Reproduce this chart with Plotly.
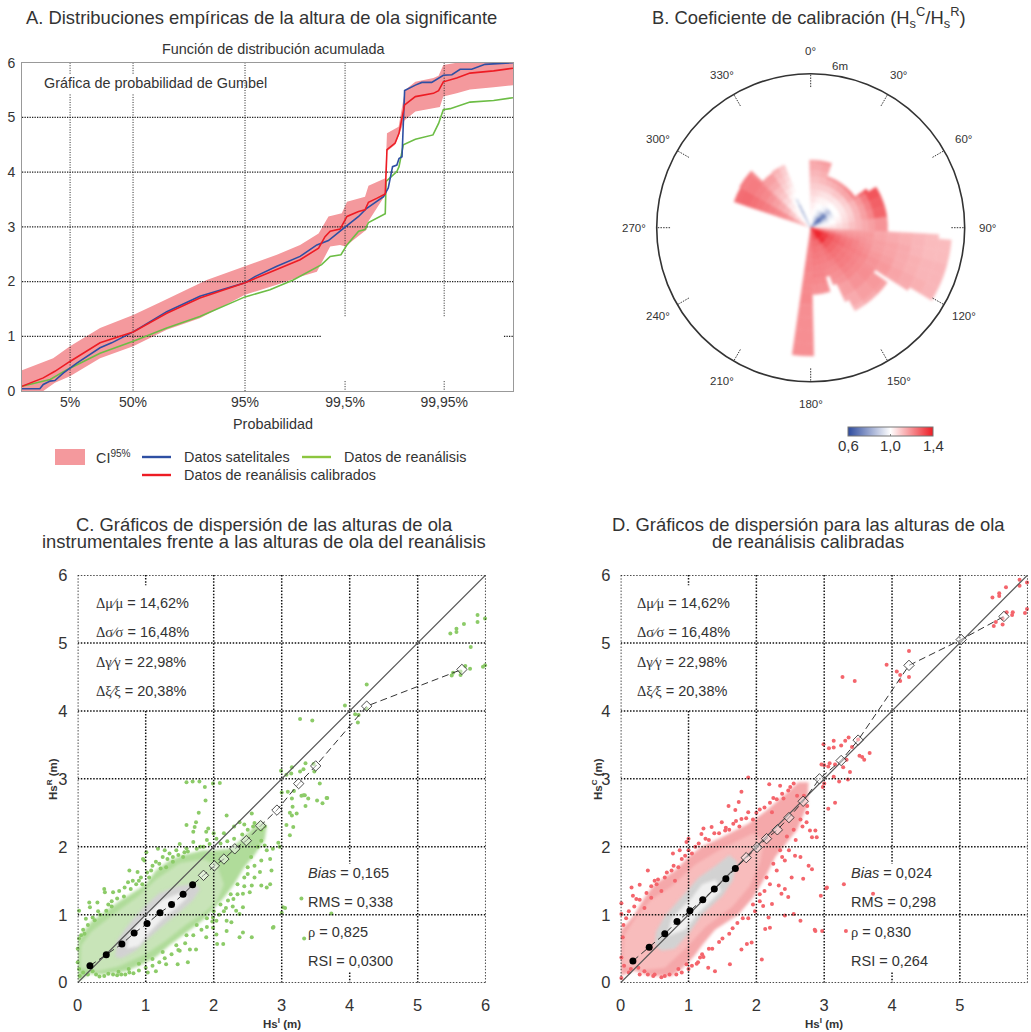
import math
import plotly.graph_objects as go

W, H = 1031, 1032
FONT = "Liberation Sans"
INK = "#333333"

# ---------- Panel A: Gumbel reduced variate vs Hs ----------
prob_ticks = [-1.097, 0.367, 2.970, 5.296, 7.600]
prob_labels = ["5%", "50%", "95%", "99,5%", "99,95%"]
red_x = [-2.22,-1.72,-1.45,-1.10,-0.40,0.37,1.15,1.92,2.97,3.71,4.25,4.68,4.83,4.95,5.18,5.34,5.61,5.76,5.84,6.03,6.23,6.27,6.46,6.55,6.68,6.93,7.35,7.47,7.58,7.89,8.20,8.75,9.20]
red_y = [0.085,0.24,0.36,0.54,0.88,1.08,1.42,1.70,1.98,2.22,2.40,2.61,2.82,2.92,2.96,3.19,3.28,3.31,3.45,3.52,3.60,4.41,4.53,4.71,5.23,5.38,5.44,5.49,5.65,5.72,5.81,5.85,5.90]
blue_x = [-2.22,-1.80,-1.72,-1.56,-1.45,-1.25,-0.94,-0.40,-0.13,0.37,1.15,1.92,2.97,3.20,3.71,4.25,4.64,4.91,5.18,5.34,5.61,5.80,6.03,6.19,6.30,6.40,6.50,6.55,6.62,6.68,6.93,7.08,7.31,7.43,7.58,7.78,7.97,8.24,8.55,9.20]
blue_y = [0.04,0.04,0.12,0.18,0.19,0.33,0.51,0.79,0.88,1.08,1.45,1.73,1.98,2.09,2.28,2.46,2.67,2.75,2.92,3.02,3.19,3.34,3.46,3.55,3.71,4.10,4.13,4.25,4.28,5.49,5.59,5.64,5.64,5.70,5.77,5.78,5.88,5.88,5.97,6.00]
green_x = [-2.22,-1.56,-1.17,-0.40,0.37,1.15,1.92,2.97,3.55,4.09,4.75,4.95,5.20,5.34,5.61,5.76,5.84,6.03,6.23,6.25,6.38,6.50,6.55,6.65,6.93,7.34,7.47,7.58,7.74,8.20,8.75,9.20]
green_y = [0.085,0.21,0.39,0.69,0.91,1.15,1.36,1.72,1.85,2.03,2.31,2.46,2.49,2.67,2.92,2.95,3.08,3.16,3.24,3.83,3.93,4.01,4.10,4.50,4.60,4.68,4.89,5.14,5.16,5.28,5.31,5.36]
ci_up_x = [-2.22,-1.49,-1.10,-0.40,0.37,1.00,2.08,2.97,3.71,4.25,4.68,4.91,5.22,5.34,5.76,5.84,6.23,6.27,6.54,6.69,6.93,7.35,7.47,7.58,7.89,9.20]
ci_up_y = [0.38,0.60,0.82,1.15,1.39,1.62,2.03,2.28,2.49,2.67,2.88,3.19,3.25,3.46,3.55,3.75,3.89,4.71,4.83,5.50,5.65,5.72,5.76,5.96,6.00,6.00]
ci_lo_x = [-2.22,-1.72,-1.45,-1.10,-0.40,0.37,1.15,1.92,2.97,3.71,4.25,4.64,4.79,4.95,5.18,5.30,5.80,5.82,6.23,6.27,6.46,6.55,6.68,6.93,7.35,7.50,7.58,7.89,8.20,8.75,9.20]
ci_lo_y = [0.00,0.00,0.15,0.27,0.60,0.82,1.12,1.33,1.76,1.94,2.09,2.18,2.40,2.64,2.67,2.64,2.95,3.08,3.58,4.38,4.50,4.68,4.95,5.11,5.17,5.19,5.38,5.44,5.51,5.55,5.59]

# ---------- Panel B: calibration coefficient rose ----------
radial_edges = [0.25,0.5,0.75,1,1.25,1.5,1.75,2,2.25,2.5,3,3.5,4,4.5,5,5.5]
sector_start = [-1,5,10,18,25,32,40,46,50,55,58,66,74,82,93,95,100,105,110,115,121,123,125.5,135,145,152,155,158.5,163,170,178.6,288.7,300,312,313.8,325,332,336]
sector_end   = [5,10,18,25,32,40,46,50,55,58,66,74,82,93,95,100,105,110,115,121,123,125.5,135,145,152,155,158.5,163,170,178.6,188.3,300,312,313.8,325,332,336,337.4]
sector_rmax  = [2.64,2.64,2.64,2.1,2.1,2.1,2.1,2.1,2.1,2.64,3.1,3.1,3.1,3.1,5.2,5.5,5.5,5.5,5.5,5.5,4.6,3.07,3.67,3.67,3.67,3.18,2.4,2.05,2.6,2.6,5.2,3.15,3.2,3.2,2.6,2.65,2.65,2.65]
sector_vals = [
 [1.00,1.00,1.02,1.03,1.05,1.07,1.09,1.11,1.13,1.15,1.16],
 [1.00,1.00,1.01,1.03,1.05,1.07,1.09,1.11,1.13,1.15,1.17],
 [1.00,0.98,1.00,1.01,1.03,1.06,1.09,1.12,1.14,1.16,1.18],
 [0.98,0.93,0.97,1.00,1.02,1.05,1.09,1.13,1.18],
 [0.93,0.88,0.93,0.99,1.02,1.05,1.09,1.14,1.19],
 [0.86,0.80,0.87,0.97,1.01,1.05,1.10,1.15,1.20],
 [0.72,0.68,0.75,0.90,1.00,1.04,1.10,1.16,1.22],
 [0.64,0.62,0.68,0.85,1.00,1.04,1.09,1.16,1.24],
 [0.64,0.62,0.70,0.88,1.00,1.04,1.09,1.16,1.24],
 [0.70,0.70,0.78,0.92,1.00,1.04,1.09,1.15,1.21,1.27,1.32],
 [0.80,0.82,0.87,0.95,1.00,1.04,1.08,1.13,1.18,1.23,1.30],
 [0.90,0.93,0.95,0.99,1.01,1.05,1.08,1.13,1.17,1.22,1.28],
 [0.97,0.98,0.99,1.00,1.03,1.06,1.09,1.13,1.17,1.21,1.27],
 [1.02,1.03,1.03,1.04,1.06,1.08,1.11,1.13,1.15,1.17,1.19],
 [1.08,1.10,1.12,1.13,1.14,1.15,1.16,1.17,1.17,1.17,1.16,1.15,1.14,1.13,1.12],
 [1.14,1.16,1.17,1.17,1.17,1.18,1.18,1.18,1.18,1.18,1.16,1.15,1.14,1.13,1.12,1.12],
 [1.22,1.24,1.24,1.23,1.22,1.21,1.20,1.20,1.19,1.18,1.17,1.16,1.15,1.13,1.12,1.12],
 [1.30,1.32,1.30,1.28,1.26,1.24,1.23,1.22,1.20,1.19,1.17,1.16,1.15,1.14,1.13,1.13],
 [1.35,1.37,1.34,1.30,1.27,1.25,1.24,1.22,1.21,1.20,1.18,1.17,1.15,1.14,1.13,1.13],
 [1.38,1.40,1.36,1.31,1.28,1.26,1.24,1.23,1.22,1.21,1.19,1.18,1.16,1.15,1.14,1.13],
 [1.38,1.40,1.36,1.31,1.28,1.26,1.24,1.23,1.22,1.21,1.19,1.18,1.16,1.15],
 [1.38,1.40,1.36,1.31,1.28,1.25,1.24,1.23,1.22,1.21,1.20],
 [1.38,1.40,1.36,1.30,1.27,1.25,1.24,1.23,1.22,1.21,1.20,1.18,1.17],
 [1.38,1.40,1.38,1.30,1.27,1.25,1.24,1.23,1.22,1.21,1.19,1.17,1.15],
 [1.35,1.38,1.30,1.26,1.25,1.24,1.22,1.21,1.20,1.19,1.17,1.15,1.13],
 [1.33,1.34,1.28,1.25,1.24,1.23,1.22,1.21,1.20,1.19,1.17,1.15],
 [1.32,1.32,1.27,1.25,1.24,1.23,1.22,1.21,1.20,1.19],
 [1.30,1.30,1.27,1.25,1.24,1.23,1.22,1.21],
 [1.30,1.30,1.27,1.25,1.24,1.23,1.22,1.22,1.21,1.20,1.20],
 [1.28,1.28,1.26,1.25,1.24,1.23,1.22,1.22,1.21,1.20,1.20],
 [1.22,1.22,1.22,1.22,1.22,1.22,1.22,1.21,1.21,1.21,1.21,1.20,1.20,1.20,1.20],
 [1.10,1.14,1.16,1.18,1.20,1.21,1.22,1.23,1.24,1.25,1.26,1.26],
 [1.02,1.05,1.07,1.10,1.13,1.15,1.17,1.19,1.21,1.22,1.23,1.23],
 [1.00,1.01,1.03,1.05,1.08,1.11,1.13,1.15,1.18,1.20,1.21,1.21],
 [1.00,1.00,1.01,1.02,1.04,1.07,1.10,1.12,1.15,1.17,1.18],
 [1.00,1.00,1.00,1.00,1.00,1.02,1.05,1.08,1.10,1.12,1.14],
 [0.62,0.66,0.72,0.80,0.90,1.00,1.02,1.05,1.07,1.09,1.10],
 [1.00,1.00,1.00,1.00,1.00,1.00,1.02,1.04,1.06,1.08,1.10],
]
angle_ticks = [0,30,60,90,120,150,180,210,240,270,300,330]
colorbar_ticks = [0.6, 1.0, 1.4]
colorbar_labels = ["0,6", "1,0", "1,4"]

# ---------- Panels C and D: scatter ----------
mean_x = [0.18,0.42,0.65,0.83,1.02,1.21,1.38,1.55,1.69]
c_mean_y = [0.25,0.41,0.57,0.73,0.87,1.03,1.15,1.30,1.44]
d_mean_y = [0.32,0.52,0.72,0.90,1.06,1.22,1.38,1.53,1.68]
c_tail_x = [1.85,2.01,2.15,2.31,2.48,2.69,2.93,3.25,3.50,4.25,5.65]
c_tail_y = [1.58,1.72,1.82,1.97,2.09,2.31,2.54,2.93,3.19,4.07,4.61]
d_tail_x = [1.85,2.01,2.15,2.31,2.48,2.69,2.93,3.25,3.50,4.25,5.02,5.65]
d_tail_y = [1.84,1.99,2.12,2.25,2.43,2.67,3.00,3.27,3.57,4.67,5.05,5.39]

c_hull = [(0,.02),(0,.6),(.08,.74),(.2,.9),(.37,1.02),(.61,1.2),(.85,1.35),(1.0,1.45),(1.15,1.65),(1.35,1.8),(1.55,1.88),(1.84,1.95),(2.0,1.95),(2.24,1.97),(2.4,2.1),(2.55,2.25),(2.7,2.38),(2.78,2.3),(2.75,2.1),(2.6,1.88),(2.45,1.7),(2.3,1.45),(2.15,1.25),(1.99,1.08),(1.84,.92),(1.6,.74),(1.35,.55),(1.15,.38),(.95,.27),(.71,.17),(.37,.12),(.17,.13)]
c_mid = [(.04,.22),(.05,.55),(.2,.75),(.45,.95),(.9,1.28),(1.15,1.52),(1.5,1.76),(1.85,1.82),(2.05,1.72),(2.15,1.45),(2.05,1.2),(1.85,1.02),(1.6,.86),(1.3,.62),(1.0,.42),(.6,.24),(.3,.17)]
c_grey = [(.55,.38),(.58,.62),(.72,.82),(.85,.98),(1.0,1.14),(1.2,1.32),(1.45,1.42),(1.72,1.46),(1.8,1.38),(1.7,1.22),(1.5,1.04),(1.3,.88),(1.05,.66),(.85,.47),(.65,.36)]
c_core = [(.72,.5),(.75,.7),(1.0,1.0),(1.25,1.22),(1.5,1.32),(1.62,1.26),(1.45,1.1),(1.25,.94),(1.05,.74),(.9,.54)]
d_hull = [(0,.1),(0,.78),(.1,.88),(.2,1.0),(.35,1.25),(.5,1.45),(.8,1.65),(1.0,1.85),(1.19,2.0),(1.49,2.14),(1.88,2.34),(2.13,2.52),(2.4,2.75),(2.62,2.95),(2.77,2.95),(2.75,2.6),(2.6,2.25),(2.42,2.02),(2.28,1.85),(2.13,1.55),(1.95,1.25),(1.73,1.0),(1.39,.78),(1.2,.55),(1.09,.4),(.9,.2),(.75,.1),(.45,.1),(.2,.18)]
d_mid = [(.03,.25),(.05,.7),(.25,1.0),(.45,1.22),(.75,1.42),(1.1,1.74),(1.5,1.98),(1.95,2.2),(2.12,2.1),(2.05,1.75),(1.9,1.42),(1.65,1.12),(1.25,.82),(.95,.5),(.65,.22),(.3,.18)]
d_grey = [(.5,.55),(.52,.75),(.65,.98),(.85,1.2),(1.0,1.38),(1.15,1.55),(1.4,1.72),(1.6,1.88),(1.72,1.78),(1.65,1.5),(1.5,1.28),(1.2,1.0),(1.0,.72),(.8,.5),(.6,.47)]
d_core = [(.68,.68),(.75,.95),(1.05,1.25),(1.2,1.45),(1.4,1.52),(1.48,1.35),(1.15,1.03),(.95,.78)]

c_dots = [(.02,1.06),(.17,1.18),(.18,1.11),(.29,1.18),(.22,.96),(.12,.94),(.39,1.38),(.4,1.33),(.52,1.33),(.61,1.35),(.69,1.4),(.76,1.65),(.88,1.63),(.96,1.82),(1.01,1.92),(.98,1.8),(.81,1.5),(.74,1.48),(.86,1.45),(.93,1.55),(1.18,1.97),(1.28,1.95),(1.35,1.9),(1.5,2.04),(1.57,1.92),(1.7,2.07),(1.6,2.32),(1.72,2.29),(1.74,2.36),(1.7,2.22),(1.78,2.5),(1.89,2.22),(1.92,2.27),(1.88,2.68),(1.6,2.95),(1.69,2.96),(1.79,2.96),(1.87,2.88),(1.99,2.93),(2.09,2.94),(2.19,2.46),(2.56,2.49),(2.38,2.36),(2.04,2.12),(1.94,2.04),(1.55,1.85),
 (2.85,1.65),(2.83,1.45),(2.7,1.43),(2.78,1.4),(2.56,1.43),(2.53,1.33),(2.43,1.31),(2.43,1.11),(2.33,1.06),(2.38,1.01),(2.29,1.23),(2.21,1.21),(2.19,.91),(2.26,.89),(2.04,.91),(1.99,.96),(2.87,.81),(2.56,.67),(2.43,.74),(2.38,.67),(2.19,.76),(2.14,.57),(2.05,.57),(2.04,.71),(1.99,.81),(1.89,.67),(1.74,.49),(1.65,.49),(1.5,.47),(1.62,.3),(1.47,.27),(1.3,.27),(1.15,.17),(1.03,.15),(.76,.15),(.64,.12),(.52,.12),(.39,.1),(.27,.12),(.22,.17),
 (2.7,2.09),(2.78,1.95),(2.87,1.97),(2.83,1.82),(2.68,1.63),(2.6,1.55),(3.02,1.11),(3.07,2.32),(3.12,2.17),(2.95,2.06),(2.97,2.0),
 (1.1,1.72),(1.2,1.75),(1.3,1.7),(1.4,1.78),(1.45,1.95),(1.25,1.85),(1.05,1.55),(.95,1.45),(.5,1.2),(.45,1.15),(.3,1.05),(.08,.78),(.02,.65),(0,.5),(0,.3),(.02,.2),(.6,.16),(.75,.2),(2.1,1.15),(2.25,1.3),(2.35,1.45),(2.45,1.55),(2.5,1.7),(2.55,1.85),(2.65,2.0),(2.7,2.25),(2.75,2.3),(2.6,2.35),(2.45,2.33),(2.3,2.3),(2.15,2.2),(2.0,2.2),(1.9,2.1),(1.8,2.0),(1.6,1.98),(1.4,1.85),(.9,.28),(1.1,.35),(1.25,.45),(1.45,.55),(1.6,.7),(1.75,.85),(1.9,.95),(2.0,1.05),(2.15,1.05),
 (.05,.7),(.1,.72),(.15,.85),(.25,.92),(.33,1.0),(.42,1.06),(.5,1.12),(.58,1.24),(.68,1.27),(.78,1.38),(.9,1.5),(1.02,1.62),(1.08,1.65),(1.15,1.78),(1.22,1.68),(1.32,1.82),(1.48,1.88),(1.62,1.93),(1.75,1.97),(1.85,2.0),(2.1,2.05),(2.2,2.08),(2.3,2.12),(2.42,2.18),(2.5,2.25),(2.58,2.3),
 (2.75,2.02),(2.7,1.8),(2.6,1.72),(2.5,1.6),(2.45,1.42),(2.35,1.3),(2.28,1.12),(2.18,1.1),(2.08,1.0),(1.98,.9),(1.9,.82),(1.82,.78),(1.7,.7),(1.58,.58),(1.48,.48),(1.38,.42),(1.28,.36),(1.2,.3),(1.1,.25),(1.0,.22),(.9,.18),(.82,.14),(.7,.12),(.58,.11),(.45,.13),(.32,.09),(.15,.12),(.08,.15),(.03,.1),
 (5.48,5.14),(5.57,5.21),(5.57,5.16),(5.68,5.28),(5.88,5.41),(5.88,5.31),(5.99,5.36),(5.78,4.94),(5.96,4.65),(5.99,4.67),(5.77,4.62),(5.7,4.66),(5.52,4.56),(5.5,4.52),(5.63,4.53),(5.63,4.58),(4.25,4.39),(3.93,4.08),(4.08,3.95),(4.12,3.83),(4.13,3.94),(4.25,4.03),(3.27,3.88),(3.45,3.86),(3.35,3.23),(3.15,3.17),(3.32,3.14),(3.27,3.11),(3.47,3.22),(3.48,3.11),(3.14,3.08),(2.99,3.12),(3.07,3.06),(3.56,2.93),(3.0,2.8),(3.09,2.81),(3.18,2.82),(3.29,2.75),(3.34,2.76),(3.15,2.71),(3.39,2.71),(3.67,2.72),(3.52,2.68),(3.32,2.76),(3.66,2.72),(3.6,2.64),(3.35,2.6),(3.16,2.59),(3.22,2.49),(3.15,2.46),(3.17,2.29),(3.12,2.5),(3.29,1.24),(3.73,1.02),(3.33,.65),(3.05,1.1),(2.88,.82),(3.0,1.03)]

d_dots = [(.4,1.65),(.16,1.4),(.28,1.44),(.18,1.28),(.23,1.23),(.01,1.17),(.01,1.01),(.5,1.5),(.53,1.45),(.65,1.55),(.75,1.65),(.77,1.9),(.87,1.95),(.97,2.07),(1.0,2.12),(.95,1.87),(.85,1.7),(1.22,2.27),(1.19,2.19),(1.34,2.29),(1.49,2.36),(1.59,2.6),(1.78,2.81),(1.74,2.66),(1.69,2.54),(1.88,2.51),(1.78,2.41),(1.54,2.24),(1.66,2.34),(1.88,3.02),(2.19,2.92),(2.35,2.9),(2.4,2.71),(2.47,2.83),(2.55,2.93),(2.23,2.51),(2.87,2.24),(2.89,2.14),(2.82,2.14),(2.79,2.24),(2.74,2.36),(3.06,2.56),(3.16,2.65),(3.04,1.4),(3.29,1.45),(2.97,.76),(2.87,.76),(2.65,.91),(2.55,1.01),(2.42,.99),(2.37,1.31),(2.42,1.38),(2.47,1.26),(2.69,1.53),(2.82,1.67),(2.77,1.72),(2.65,1.85),(2.57,1.87),(2.52,1.55),(2.42,1.8),(2.33,1.43),(2.23,1.16),(2.1,1.13),(2.18,.96),(2.2,.81),(2.13,.79),(1.93,.59),(1.86,.57),(2.08,.34),(1.78,.49),(1.61,.27),(1.39,.17),(1.29,.22),(1.14,.3),(1.17,.37),(.97,.27),(.85,.2),(.72,.12),(.5,.12),(.35,.17),(.26,.22),(.01,.37),(.01,.07),(.03,.67),
 (.6,1.35),(.45,1.25),(.35,1.1),(.8,1.5),(1.05,1.9),(1.15,2.05),(1.3,2.1),(1.45,2.2),(1.6,2.25),(1.75,2.3),(1.95,2.4),(2.05,2.55),(2.2,2.65),(2.3,2.7),(2.6,2.75),(2.7,2.75),(2.75,2.6),(2.65,2.4),(2.55,2.25),(2.45,2.15),(2.35,1.95),(2.25,1.75),(2.15,1.55),(2.05,1.3),(1.95,1.15),(1.8,.95),(1.65,.8),(1.5,.65),(1.35,.5),(1.2,.42),(1.05,.25),(.9,.15),(.65,.1),(.4,.12),(.15,.2),(.05,.25),
 (.04,.85),(.08,.95),(.12,1.05),(.2,1.12),(.28,1.22),(.38,1.32),(.45,1.42),(.55,1.52),(.68,1.62),(.78,1.72),(.9,1.82),(1.0,1.95),(1.1,2.0),(1.25,2.12),(1.38,2.2),(1.55,2.28),(1.7,2.38),(1.85,2.42),(2.0,2.5),(2.12,2.58),(2.25,2.72),(2.38,2.78),(2.5,2.88),
 (2.75,2.5),(2.68,2.3),(2.58,2.1),(2.48,1.95),(2.38,1.85),(2.3,1.65),(2.2,1.45),(2.12,1.35),(2.05,1.2),(1.98,1.05),(1.88,.95),(1.72,.88),(1.6,.72),(1.45,.6),(1.3,.5),(1.22,.38),(1.12,.28),(1.0,.2),(.82,.12),(.6,.08),(.48,.1),(.28,.12),(.12,.15),
 (5.48,5.67),(5.58,5.73),(5.58,5.69),(5.68,5.82),(5.88,5.93),(5.88,5.84),(5.99,5.89),(5.78,5.45),(5.77,5.41),(5.69,5.45),(5.53,5.31),(5.5,5.25),(5.63,5.36),(5.63,5.27),(5.96,5.44),(5.99,5.5),(4.25,4.88),(3.92,4.68),(4.07,4.58),(4.12,4.53),(4.12,4.44),(4.25,4.5),(3.27,4.5),(3.45,4.44),
 (3.5,3.58),(3.36,3.61),(3.14,3.56),(2.99,3.51),(3.31,3.56),(3.25,3.49),(3.41,3.47),(3.14,3.46),(3.07,3.45),(3.67,3.38),(3.52,3.34),(3.56,3.32),(3.59,3.28),(3.33,3.28),(3.28,3.17),(3.38,3.1),(3.14,3.03),(3.35,2.99),(3.22,2.96),(3.08,3.23),(3.0,3.2),(2.96,3.21),(3.16,3.21),(3.06,3.18),(2.98,2.88),(3.0,2.93),(2.95,1.28),(3.03,1.39),(3.72,1.31),(2.86,.78),(3.32,.76)]

SERIF = "font-family:'Liberation Serif'"
stats_sym = ["Δμ∕μ", "Δσ∕σ", "Δγ∕γ", "Δξ∕ξ"]
stats_val = ["14,62%", "16,48%", "22,98%", "20,38%"]
c_stats = ["<i>Bias</i> = 0,165", "RMS = 0,338", f"<span style=\"{SERIF}\">ρ</span> = 0,825", "RSI = 0,0300"]
d_stats = ["<i>Bias</i> = 0,024", "RMS = 0,298", f"<span style=\"{SERIF}\">ρ</span> = 0,830", "RSI = 0,264"]
scatter_ticks = [0, 1, 2, 3, 4, 5, 6]

fig = go.Figure()
ann = []


def text(px, py, s, size=14.4, anchor="center", color=INK, angle=0, family=FONT):
    ann.append(dict(x=px / W, y=1 - py / H, xref="paper", yref="paper", text=s, showarrow=False,
                    xanchor=anchor, yanchor="middle", textangle=angle,
                    font=dict(size=size, color=color, family=family)))


def dom_x(a, b):
    return [a / W, b / W]


def dom_y(top, bot):
    return [1 - bot / H, 1 - top / H]


# ---- Panel A -----
CI_COL = "#f4999d"
fig.add_trace(go.Scatter(x=ci_up_x + ci_lo_x[::-1], y=ci_up_y + ci_lo_y[::-1], fill="toself", mode="lines",
                         line=dict(width=0), fillcolor=CI_COL, xaxis="x", yaxis="y", showlegend=False))
grid_a_v_x = [-1.097,-1.097,None,-1.097,-1.097,None,0.367,0.367,None,0.367,0.367,None,5.296,5.296,None,5.296,5.296,None,7.6,7.6,None,7.6,7.6]
grid_a_v_y = [6,5.78,None,5.42,0,None,6,5.78,None,5.42,0,None,6,1.36,None,.18,0,None,6,1.36,None,.18,0]
fig.add_trace(go.Scatter(x=grid_a_v_x + [None, 2.97, 2.97], y=grid_a_v_y + [None, 0, 6], mode="lines", xaxis="x", yaxis="y",
                         line=dict(color="#222222", width=1, dash="1px,1.5px"), showlegend=False, cliponaxis=False))
grid_a_h_x = [-2.215,9.2,None,-2.215,9.2,None,-2.215,9.2,None,-2.215,9.2,None,-2.215,4.75,None,8.99,9.2]
grid_a_h_y = [5,5,None,4,4,None,3,3,None,2,2,None,1,1,None,1,1]
fig.add_trace(go.Scatter(x=grid_a_h_x, y=grid_a_h_y, mode="lines", xaxis="x", yaxis="y",
                         line=dict(color="#222222", width=1.3, dash="1.3px,1.2px"), showlegend=False))
for xs, ys, col in [(green_x, green_y, "#6cbd45"), (blue_x, blue_y, "#2e4fa3"), (red_x, red_y, "#ed1c24")]:
    fig.add_trace(go.Scatter(x=xs, y=ys, mode="lines", xaxis="x", yaxis="y", line=dict(color=col, width=1.6),
                             showlegend=False))


# ---- Panel B -----
b_r, b_base, b_theta, b_width, b_val = [], [], [], [], []
for s, e, rm, vals in zip(sector_start, sector_end, sector_rmax, sector_vals):
    prev = 0
    for edge, v in zip(radial_edges, vals):
        top = min(edge, rm)
        if top > prev:
            b_base.append(prev)
            b_r.append(top - prev)
            b_theta.append((s + e) / 2)
            b_width.append(e - s)
            b_val.append(v)
        prev = edge

fig.add_trace(go.Barpolar(r=b_r, base=b_base, theta=b_theta, width=b_width, subplot="polar", showlegend=False,
                          marker=dict(color=b_val, coloraxis="coloraxis", line=dict(width=0.4, color=b_val, coloraxis="coloraxis"))))
tick_r, tick_t = [], []
for a in angle_ticks:
    tick_r += [5.48, 6, None]
    tick_t += [a, a, None]
fig.add_trace(go.Scatterpolar(r=tick_r, theta=tick_t, mode="lines", subplot="polar", showlegend=False,
                              line=dict(color="#333333", width=1, dash="1.5px,1.2px")))
CX, CY, RPX = 810.7, 227.7, 154
for a in angle_ticks:
    t = math.radians(a)
    text(CX + RPX * 6.88 / 6 * math.sin(t), CY - RPX * 6.88 / 6 * math.cos(t), f"{a}°", 11.5)
text(CX + RPX * 6.39 / 6 * math.sin(math.radians(10.4)), CY - RPX * 6.39 / 6 * math.cos(math.radians(10.4)), "6m", 11.5)
for v, lab in zip(colorbar_ticks, colorbar_labels):
    text(848 + (v - 0.6) / 0.8 * 85, 445, lab, 15)


# ---- Panels C, D -----
def panel(ax, ay, hull, mid, grey, core, hull_col, mid_col, dots, dot_col, my, tx, ty):
    for poly, col in [(hull, hull_col), (mid, mid_col), (grey, "#d2d2d2"), (core, "#f0f0f0")]:
        fig.add_trace(go.Scatter(x=[p[0] for p in poly] + [poly[0][0]], y=[p[1] for p in poly] + [poly[0][1]], mode="lines",
                                 fill="toself", fillcolor=col, line=dict(width=0), xaxis=ax, yaxis=ay, showlegend=False))
    fig.add_trace(go.Scatter(x=[p[0] for p in dots], y=[p[1] for p in dots], mode="markers", xaxis=ax, yaxis=ay,
                             marker=dict(size=4, color=dot_col, line=dict(width=0)), showlegend=False, cliponaxis=False))
    vx, vy = [], []
    for v in scatter_ticks:
        if v == 1:
            vx += [1, 1, None, 1, 1, None]
            vy += [6, 5.85, None, 4, 0, None]
        elif v == 4:
            vx += [4, 4, None, 4, 4, None]
            vy += [6, 1.75, None, .15, 0, None]
        else:
            vx += [v, v, None]
            vy += [0, 6, None]
    hx, hy = [], []
    for v in scatter_ticks:
        hx += [0, 6, None]
        hy += [v, v, None]
    fig.add_trace(go.Scatter(x=vx + [None] + hx, y=vy + [None] + hy, mode="lines", xaxis=ax, yaxis=ay, showlegend=False, cliponaxis=False,
                             line=dict(color="#111111", width=1.5, dash="1.5px,1.6px")))
    fig.add_trace(go.Scatter(x=[0, 6], y=[0, 6], mode="lines", xaxis=ax, yaxis=ay, showlegend=False,
                             line=dict(color="#555555", width=1.2)))
    fig.add_trace(go.Scatter(x=mean_x + tx, y=my + ty, mode="lines", xaxis=ax, yaxis=ay, showlegend=False,
                             line=dict(color="#333333", width=1, dash="7px,4px")))
    fig.add_trace(go.Scatter(x=tx, y=ty, mode="markers", xaxis=ax, yaxis=ay, showlegend=False,
                             marker=dict(symbol="diamond", size=8, color="rgba(255,255,255,0.45)",
                                         line=dict(color="#222222", width=0.8))))
    fig.add_trace(go.Scatter(x=mean_x, y=my, mode="markers", xaxis=ax, yaxis=ay, showlegend=False,
                             marker=dict(size=7, color="#000000")))


panel("x2", "y2", c_hull, c_mid, c_grey, c_core, "#b0dc9a", "#c8e4b8", c_dots, "#8ccb68", c_mean_y, c_tail_x, c_tail_y)
panel("x3", "y3", d_hull, d_mid, d_grey, d_core, "#f5a8aa", "#f8bcbc", d_dots, "#f4656c", d_mean_y, d_tail_x, d_tail_y)

# ---- Texts -----
text(261, 17, "A. Distribuciones empíricas de la altura de ola significante", 18.4)
text(809, 17, "B. Coeficiente de calibración (H<sub>s</sub><sup>C</sup>/H<sub>s</sub><sup>R</sup>)", 18.4)
text(273, 49, "Función de distribución acumulada")
text(42, 83, "Gráfica de probabilidad de Gumbel", 14.4, "left")
text(273, 424, "Probabilidad")
text(94, 457, "CI<sup>95%</sup>", 14.4, "left")
text(181.5, 457, "Datos satelitales", 14.4, "left")
text(342, 457, "Datos de reanálisis", 14.4, "left")
text(181.5, 475, "Datos de reanálisis calibrados", 14.4, "left")
text(264, 524, "C. Gráficos de dispersión de las alturas de ola", 18.4)
text(264, 541, "instrumentales frente a las alturas de ola del reanálisis", 18.4)
text(808, 524, "D. Gráficos de dispersión para las alturas de ola", 18.4)
text(808, 541, "de reanálisis calibradas", 18.4)
for i in range(4):
    py = [603, 632, 662, 691][i]
    s = f"<span style=\"{SERIF}\">{stats_sym[i]}</span> = {stats_val[i]}"
    text(94, py, s, 14.5, "left")
    text(635, py, s, 14.5, "left")
for i in range(4):
    py = [873, 902, 932, 961][i]
    text(306, py, c_stats[i], 14.5, "left")
    text(849, py, d_stats[i], 14.5, "left")
text(52, 779, "<b>Hs<sup>R</sup> (m)</b>", 11.5, angle=-90)
text(597, 779, "<b>Hs<sup>C</sup> (m)</b>", 11.5, angle=-90)
text(282, 1023, "<b>Hs<sup>I</sup> (m)</b>", 11.5)
text(824, 1023, "<b>Hs<sup>I</sup> (m)</b>", 11.5)

# legend keys
shapes = [
    dict(type="rect", xref="paper", yref="paper", x0=55 / W, x1=85 / W, y0=1 - 465 / H, y1=1 - 449 / H,
         fillcolor=CI_COL, line=dict(width=0)),
]
for x0, y0, c in [(142, 457, "#2e4fa3"), (302, 457, "#8cc63f"), (142, 475, "#ed1c24")]:
    shapes.append(dict(type="line", xref="paper", yref="paper", x0=x0 / W, x1=(x0 + 29) / W, y0=1 - y0 / H, y1=1 - y0 / H,
                       line=dict(color=c, width=2.4)))

sc_tick = dict(size=16.5, color=INK, family=FONT)
fig.update_layout(
    width=W, height=H, autosize=False, margin=dict(l=0, r=0, t=0, b=0, autoexpand=False), paper_bgcolor="white", plot_bgcolor="white",
    showlegend=False, annotations=ann, shapes=shapes,
    xaxis=dict(domain=dom_x(22, 513), range=[-2.215, 9.2], tickvals=prob_ticks, ticktext=prob_labels, showgrid=False, zeroline=False,
               showline=True, mirror=True, linecolor="#999999", linewidth=1, ticks="", ticklabelstandoff=-2,
               tickfont=dict(size=14, color=INK, family=FONT), anchor="y"),
    yaxis=dict(domain=dom_y(62.7, 391), range=[0, 6], tickvals=scatter_ticks, showgrid=False, zeroline=False, showline=True, mirror=True,
               linecolor="#999999", linewidth=1, ticks="outside", ticklen=3, tickcolor="rgba(0,0,0,0)",
               tickfont=dict(size=14, color=INK, family=FONT), anchor="x"),
    xaxis2=dict(domain=dom_x(77.7, 485.7), range=[0, 6], tickvals=scatter_ticks, showgrid=False, zeroline=False, ticks="outside", ticklen=7,
                tickcolor="rgba(0,0,0,0)", tickfont=sc_tick, anchor="y2"),
    yaxis2=dict(domain=dom_y(575, 982.7), range=[0, 6], tickvals=scatter_ticks, showgrid=False, zeroline=False, ticks="outside", ticklen=6,
                tickcolor="rgba(0,0,0,0)", tickfont=sc_tick, anchor="x2"),
    xaxis3=dict(domain=dom_x(620.7, 1027.7), range=[0, 6], tickvals=scatter_ticks, showgrid=False, zeroline=False, ticks="outside", ticklen=7,
                tickcolor="rgba(0,0,0,0)", tickfont=sc_tick, anchor="y3"),
    yaxis3=dict(domain=dom_y(575, 982.7), range=[0, 6], tickvals=scatter_ticks, showgrid=False, zeroline=False, ticks="outside", ticklen=6,
                tickcolor="rgba(0,0,0,0)", tickfont=sc_tick, anchor="x3"),
    polar=dict(domain=dict(x=dom_x(656.7, 964.7), y=dom_y(73.7, 381.7)), bgcolor="white", bargap=0,
               radialaxis=dict(range=[0, 6], visible=False),
               angularaxis=dict(rotation=90, direction="clockwise", showgrid=False, showticklabels=False, ticks="",
                                showline=True, linecolor="#333333", linewidth=1.6)),
    coloraxis=dict(cmin=0.6, cmax=1.4, colorscale=[[0, "#2e4b9e"], [0.5, "#ffffff"], [1, "#ed1c24"]],
                   colorbar=dict(orientation="h", x=890.5 / W, xanchor="center", y=1 - 426.7 / H, yanchor="top", thickness=9,
                                 thicknessmode="pixels", len=85, lenmode="pixels", tickvals=colorbar_ticks, showticklabels=False,
                                 ticks="inside", ticklen=2, tickcolor="#888888",
                                 outlinewidth=1, outlinecolor="#777777", xpad=0, ypad=0)),
)
soften = (
    "document.body.style.margin='0';document.body.style.overflow='hidden';"
    "document.querySelectorAll('.frontplot .barlayer').forEach(function(e){e.style.filter='blur(1.8px)';});"
    "document.querySelectorAll('.subplot.x2y2 .fills, .subplot.x3y3 .fills').forEach(function(e){e.style.filter='blur(1.5px)';});"
)
fig.write_html("out.html", config=dict(displayModeBar=False), post_script=soften)
